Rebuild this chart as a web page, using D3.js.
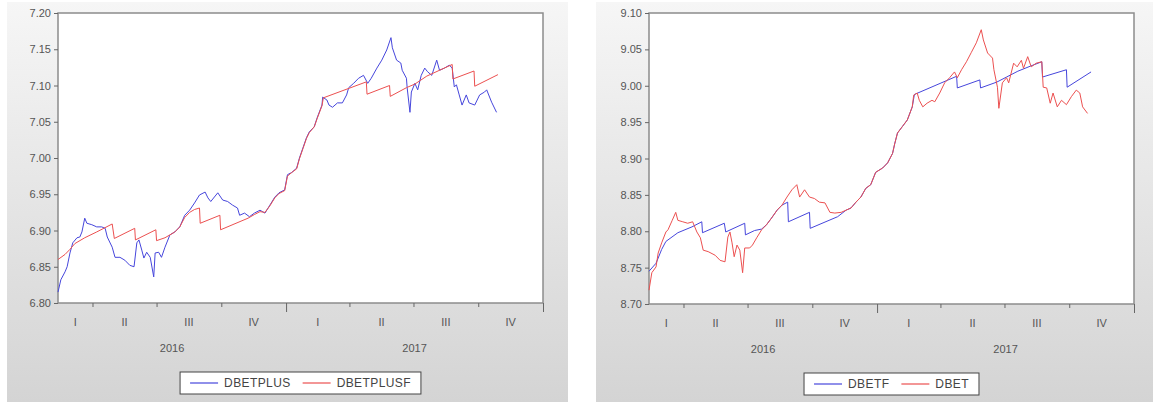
<!DOCTYPE html>
<html>
<head>
<meta charset="utf-8">
<script src="https://cdn.jsdelivr.net/npm/d3@7"></script>
<style>
  body { margin: 0; background: #fff; }
  svg { display: block; }
  text { font-family: "Liberation Sans", Arial, sans-serif; }
</style>
</head>
<body>
<div id="canvas"></div>
<script>
"use strict"

/* Data: [date, value] */
let dbetplus = [
    ["2016-02-12", 6.815], ["2016-02-16", 6.832], ["2016-02-22", 6.843], ["2016-02-25", 6.850],
    ["2016-02-29", 6.869], ["2016-03-04", 6.883], ["2016-03-10", 6.890], ["2016-03-14", 6.891],
    ["2016-03-17", 6.898], ["2016-03-21", 6.917], ["2016-03-24", 6.910], ["2016-03-31", 6.908],
    ["2016-04-07", 6.905], ["2016-04-14", 6.905], ["2016-04-19", 6.903], ["2016-04-22", 6.891],
    ["2016-04-29", 6.877], ["2016-05-03", 6.863], ["2016-05-10", 6.863], ["2016-05-17", 6.859],
    ["2016-05-24", 6.852], ["2016-05-30", 6.850], ["2016-06-03", 6.883], ["2016-06-06", 6.887],
    ["2016-06-10", 6.873], ["2016-06-13", 6.862], ["2016-06-17", 6.870], ["2016-06-22", 6.863],
    ["2016-06-27", 6.836], ["2016-06-29", 6.869], ["2016-07-04", 6.870], ["2016-07-08", 6.863],
    ["2016-07-13", 6.877], ["2016-07-20", 6.894], ["2016-07-27", 6.898], ["2016-08-03", 6.905],
    ["2016-08-10", 6.921], ["2016-08-17", 6.928], ["2016-08-24", 6.938], ["2016-08-31", 6.949],
    ["2016-09-08", 6.953], ["2016-09-12", 6.945], ["2016-09-16", 6.940], ["2016-09-26", 6.952],
    ["2016-10-03", 6.942], ["2016-10-10", 6.940], ["2016-10-17", 6.935], ["2016-10-24", 6.931],
    ["2016-10-27", 6.921], ["2016-11-03", 6.924], ["2016-11-10", 6.919], ["2016-11-17", 6.924],
    ["2016-11-25", 6.928], ["2016-12-02", 6.924], ["2016-12-09", 6.935], ["2016-12-16", 6.946],
    ["2016-12-22", 6.952], ["2016-12-30", 6.956], ["2017-01-03", 6.977], ["2017-01-09", 6.980],
    ["2017-01-16", 6.986], ["2017-01-20", 7.000], ["2017-01-25", 7.014], ["2017-01-30", 7.028],
    ["2017-02-03", 7.036], ["2017-02-10", 7.043], ["2017-02-14", 7.055], ["2017-02-21", 7.073],
    ["2017-02-22", 7.084], ["2017-02-28", 7.080], ["2017-03-03", 7.073], ["2017-03-08", 7.070],
    ["2017-03-15", 7.076], ["2017-03-22", 7.076], ["2017-03-28", 7.087], ["2017-03-31", 7.097],
    ["2017-04-07", 7.103], ["2017-04-14", 7.110], ["2017-04-21", 7.114], ["2017-04-27", 7.103],
    ["2017-05-02", 7.110], ["2017-05-10", 7.124], ["2017-05-17", 7.135], ["2017-05-24", 7.149],
    ["2017-05-30", 7.166], ["2017-06-01", 7.152], ["2017-06-07", 7.135], ["2017-06-13", 7.131],
    ["2017-06-15", 7.121], ["2017-06-21", 7.110], ["2017-06-22", 7.097], ["2017-06-26", 7.063],
    ["2017-06-28", 7.091], ["2017-07-03", 7.103], ["2017-07-07", 7.094], ["2017-07-12", 7.114],
    ["2017-07-17", 7.124], ["2017-07-21", 7.119], ["2017-07-27", 7.114], ["2017-08-03", 7.135],
    ["2017-08-07", 7.121], ["2017-08-14", 7.124], ["2017-08-21", 7.128], ["2017-08-25", 7.124],
    ["2017-08-28", 7.098], ["2017-08-31", 7.101], ["2017-09-04", 7.087], ["2017-09-08", 7.073],
    ["2017-09-14", 7.087], ["2017-09-18", 7.076], ["2017-09-26", 7.073], ["2017-10-03", 7.087],
    ["2017-10-10", 7.091], ["2017-10-13", 7.094], ["2017-10-20", 7.077], ["2017-10-27", 7.063]
];

let dbetplusf = [
    ["2016-02-12", 6.860], ["2016-02-22", 6.867], ["2016-02-29", 6.874], ["2016-03-07", 6.882],
    ["2016-03-21", 6.890], ["2016-04-07", 6.898], ["2016-04-29", 6.909], ["2016-05-02", 6.889],
    ["2016-05-31", 6.903], ["2016-06-01", 6.887], ["2016-06-30", 6.901], ["2016-07-01", 6.886],
    ["2016-07-13", 6.890], ["2016-07-20", 6.894], ["2016-07-27", 6.898], ["2016-08-03", 6.905],
    ["2016-08-10", 6.918], ["2016-08-17", 6.925], ["2016-08-24", 6.929], ["2016-08-31", 6.931],
    ["2016-09-01", 6.910], ["2016-09-29", 6.921], ["2016-09-30", 6.901], ["2016-11-08", 6.917],
    ["2016-11-17", 6.922], ["2016-11-25", 6.926], ["2016-12-02", 6.925], ["2016-12-09", 6.934],
    ["2016-12-16", 6.945], ["2016-12-22", 6.951], ["2016-12-30", 6.955], ["2017-01-03", 6.975],
    ["2017-01-09", 6.980], ["2017-01-16", 6.985], ["2017-01-20", 6.999], ["2017-01-25", 7.013],
    ["2017-01-30", 7.027], ["2017-02-03", 7.035], ["2017-02-10", 7.043], ["2017-02-14", 7.054],
    ["2017-02-21", 7.072], ["2017-02-23", 7.083], ["2017-04-25", 7.105], ["2017-04-26", 7.088],
    ["2017-05-28", 7.100], ["2017-05-29", 7.085], ["2017-06-21", 7.097], ["2017-07-03", 7.102],
    ["2017-07-20", 7.113], ["2017-08-07", 7.121], ["2017-08-25", 7.129], ["2017-08-26", 7.109],
    ["2017-09-25", 7.120], ["2017-09-26", 7.099], ["2017-10-29", 7.115]
];

let dbetf = [
    ["2016-02-12", 8.745], ["2016-02-22", 8.756], ["2016-03-01", 8.775], ["2016-03-07", 8.786],
    ["2016-03-24", 8.798], ["2016-04-13", 8.806], ["2016-04-27", 8.813], ["2016-04-28", 8.798],
    ["2016-05-29", 8.811], ["2016-05-31", 8.799], ["2016-06-27", 8.811], ["2016-06-28", 8.795],
    ["2016-07-11", 8.801], ["2016-07-21", 8.803], ["2016-07-28", 8.809], ["2016-08-04", 8.818],
    ["2016-08-12", 8.829], ["2016-08-19", 8.836], ["2016-08-27", 8.840], ["2016-08-28", 8.813],
    ["2016-09-27", 8.826], ["2016-09-28", 8.804], ["2016-11-06", 8.820], ["2016-11-18", 8.829],
    ["2016-11-25", 8.832], ["2016-12-02", 8.840], ["2016-12-09", 8.847], ["2016-12-16", 8.859],
    ["2016-12-23", 8.864], ["2016-12-30", 8.881], ["2017-01-09", 8.887], ["2017-01-16", 8.894],
    ["2017-01-23", 8.907], ["2017-01-26", 8.920], ["2017-01-30", 8.935], ["2017-02-06", 8.944],
    ["2017-02-13", 8.953], ["2017-02-20", 8.971], ["2017-02-23", 8.988], ["2017-04-24", 9.013],
    ["2017-04-25", 8.997], ["2017-05-27", 9.008], ["2017-05-28", 8.997], ["2017-06-20", 9.005],
    ["2017-07-04", 9.012], ["2017-07-20", 9.020], ["2017-08-07", 9.027], ["2017-08-23", 9.033],
    ["2017-08-24", 9.012], ["2017-09-27", 9.022], ["2017-09-28", 8.998], ["2017-11-01", 9.019]
];

let dbet = [
    ["2016-02-12", 8.719], ["2016-02-16", 8.743], ["2016-02-22", 8.751], ["2016-02-25", 8.770],
    ["2016-03-01", 8.784], ["2016-03-07", 8.799], ["2016-03-10", 8.802], ["2016-03-16", 8.815],
    ["2016-03-21", 8.826], ["2016-03-24", 8.815], ["2016-03-31", 8.813], ["2016-04-07", 8.811],
    ["2016-04-14", 8.813], ["2016-04-20", 8.799], ["2016-04-25", 8.791], ["2016-04-29", 8.774],
    ["2016-05-06", 8.772], ["2016-05-16", 8.767], ["2016-05-23", 8.760], ["2016-05-30", 8.758],
    ["2016-06-03", 8.792], ["2016-06-06", 8.799], ["2016-06-09", 8.784], ["2016-06-12", 8.765],
    ["2016-06-16", 8.781], ["2016-06-20", 8.774], ["2016-06-24", 8.743], ["2016-06-27", 8.777],
    ["2016-07-04", 8.777], ["2016-07-08", 8.781], ["2016-07-14", 8.791], ["2016-07-21", 8.802],
    ["2016-07-28", 8.809], ["2016-08-04", 8.818], ["2016-08-12", 8.829], ["2016-08-19", 8.836],
    ["2016-08-26", 8.847], ["2016-09-02", 8.857], ["2016-09-09", 8.864], ["2016-09-13", 8.847],
    ["2016-09-20", 8.857], ["2016-09-27", 8.847], ["2016-10-04", 8.845], ["2016-10-11", 8.840],
    ["2016-10-19", 8.839], ["2016-10-26", 8.826], ["2016-11-02", 8.825], ["2016-11-11", 8.826],
    ["2016-11-18", 8.829], ["2016-11-25", 8.832], ["2016-12-02", 8.840], ["2016-12-09", 8.847],
    ["2016-12-16", 8.859], ["2016-12-23", 8.864], ["2016-12-30", 8.881], ["2017-01-09", 8.887],
    ["2017-01-16", 8.894], ["2017-01-23", 8.907], ["2017-01-26", 8.920], ["2017-01-30", 8.935],
    ["2017-02-06", 8.944], ["2017-02-13", 8.953], ["2017-02-20", 8.971], ["2017-02-22", 8.987],
    ["2017-02-27", 8.990], ["2017-03-02", 8.980], ["2017-03-07", 8.971], ["2017-03-13", 8.976],
    ["2017-03-20", 8.980], ["2017-03-24", 8.978], ["2017-03-31", 8.990], ["2017-04-07", 9.004],
    ["2017-04-14", 9.011], ["2017-04-21", 9.019], ["2017-04-25", 9.011], ["2017-05-01", 9.022],
    ["2017-05-08", 9.033], ["2017-05-15", 9.046], ["2017-05-22", 9.059], ["2017-05-29", 9.077],
    ["2017-06-01", 9.063], ["2017-06-07", 9.045], ["2017-06-14", 9.038], ["2017-06-16", 9.022],
    ["2017-06-21", 8.998], ["2017-06-23", 8.969], ["2017-06-28", 9.004], ["2017-07-04", 9.011],
    ["2017-07-07", 9.004], ["2017-07-14", 9.031], ["2017-07-19", 9.026], ["2017-07-25", 9.035],
    ["2017-07-28", 9.024], ["2017-08-03", 9.040], ["2017-08-08", 9.026], ["2017-08-15", 9.031],
    ["2017-08-23", 9.033], ["2017-08-25", 8.998], ["2017-08-30", 8.997], ["2017-09-04", 8.976],
    ["2017-09-08", 8.990], ["2017-09-14", 8.971], ["2017-09-20", 8.980], ["2017-09-27", 8.974],
    ["2017-10-04", 8.985], ["2017-10-11", 8.994], ["2017-10-16", 8.990], ["2017-10-20", 8.971],
    ["2017-10-27", 8.962]
];

/* Tick labels */
let leftTicks = [6.80, 6.85, 6.90, 6.95, 7.00, 7.05, 7.10, 7.15, 7.20];
let rightTicks = [8.70, 8.75, 8.80, 8.85, 8.90, 8.95, 9.00, 9.05, 9.10];
let quarterNames = ["I", "II", "III", "IV"];
let years = [2016, 2017];
let axisStart = "2016-02-12";
let axisEnd = "2018-01-01";

/* Configuration variables: drawing */
let svgWidth = 1158;
let svgHeight = 405;
let blue = "#4646dc";
let red = "#ec5050";
let labelColor = "#555";

let parseDate = d3.timeParse("%Y-%m-%d");

let svg = d3.select("#canvas")
    .append("svg")
    .attr("width", svgWidth)
    .attr("height", svgHeight);

/* Panel background gradient */
let grad = svg.append("defs").append("linearGradient")
    .attr("id", "bggrad")
    .attr("x1", 0).attr("y1", 0).attr("x2", 0).attr("y2", 1);
grad.append("stop").attr("offset", "0%").attr("stop-color", "#f6f6f6");
grad.append("stop").attr("offset", "100%").attr("stop-color", "#d4d4d4");

let panels = [
    {
        bg: { x: 7, y: 2, w: 561, h: 400 },
        plot: { left: 58, right: 543, top: 13, bottom: 303 },
        ticks: leftTicks,
        series: [
            { name: "DBETPLUS", data: dbetplus, color: blue },
            { name: "DBETPLUSF", data: dbetplusf, color: red }
        ],
        legendY: 372
    },
    {
        bg: { x: 596, y: 2, w: 557, h: 400 },
        plot: { left: 649, right: 1134, top: 13, bottom: 304 },
        ticks: rightTicks,
        series: [
            { name: "DBETF", data: dbetf, color: blue },
            { name: "DBET", data: dbet, color: red }
        ],
        legendY: 373
    }
];

panels.forEach(function (p) {
    let g = svg.append("g");

    g.append("rect")
        .attr("x", p.bg.x).attr("y", p.bg.y)
        .attr("width", p.bg.w).attr("height", p.bg.h)
        .attr("fill", "url(#bggrad)");

    let xScale = d3.scaleTime()
        .domain([parseDate(axisStart), parseDate(axisEnd)])
        .range([p.plot.left, p.plot.right]);

    let yScale = d3.scaleLinear()
        .domain(d3.extent(p.ticks))
        .range([p.plot.bottom, p.plot.top]);

    /* plot area */
    g.append("rect")
        .attr("x", p.plot.left).attr("y", p.plot.top)
        .attr("width", p.plot.right - p.plot.left)
        .attr("height", p.plot.bottom - p.plot.top)
        .attr("fill", "#fff")
        .attr("stroke", "#8c8c8c")
        .attr("stroke-width", 1.5);

    /* y axis */
    let yAxis = g.append("g")
        .attr("transform", "translate(" + p.plot.left + ",0)")
        .call(d3.axisLeft(yScale)
            .tickValues(p.ticks)
            .tickSize(4)
            .tickSizeOuter(0)
            .tickPadding(3)
            .tickFormat(d3.format(".2f")));
    yAxis.select(".domain").remove();
    yAxis.selectAll("line").attr("stroke", "#666");
    yAxis.selectAll("text")
        .attr("fill", labelColor)
        .style("font-size", "11px")
        .style("font-family", "'Liberation Sans', Arial, sans-serif");

    /* x axis: quarter ticks and longer year ticks */
    let qTicks = d3.timeMonths(new Date(2016, 3, 1), new Date(2018, 0, 2), 3);
    let small = qTicks.filter(d => d.getMonth() !== 0);
    let big = qTicks.filter(d => d.getMonth() === 0);

    [[small, 4], [big, 9]].forEach(function (pair) {
        let ax = g.append("g")
            .attr("transform", "translate(0," + p.plot.bottom + ")")
            .call(d3.axisBottom(xScale)
                .tickValues(pair[0])
                .tickSize(pair[1])
                .tickSizeOuter(0)
                .tickFormat(""));
        ax.select(".domain").remove();
        ax.selectAll("line").attr("stroke", "#666");
    });

    /* quarter and year labels, centred on the visible part of each period */
    let d0 = xScale.domain()[0];
    let d1 = xScale.domain()[1];
    years.forEach(function (yr) {
        quarterNames.forEach(function (qn, qi) {
            let s = new Date(yr, qi * 3, 1);
            let e = new Date(yr, qi * 3 + 3, 1);
            let cx = (xScale(s < d0 ? d0 : s) + xScale(e > d1 ? d1 : e)) / 2;
            g.append("text")
                .attr("x", cx)
                .attr("y", p.plot.bottom + 23)
                .attr("text-anchor", "middle")
                .attr("fill", labelColor)
                .style("font-size", "11px")
                .text(qn);
        });
        let ys = new Date(yr, 0, 1);
        let ye = new Date(yr + 1, 0, 1);
        g.append("text")
            .attr("x", (xScale(ys < d0 ? d0 : ys) + xScale(ye > d1 ? d1 : ye)) / 2)
            .attr("y", p.plot.bottom + 49)
            .attr("text-anchor", "middle")
            .attr("fill", labelColor)
            .style("font-size", "11px")
            .text(String(yr));
    });

    /* lines */
    let line = d3.line()
        .x(d => xScale(parseDate(d[0])))
        .y(d => yScale(d[1]));

    p.series.forEach(function (s) {
        g.append("path")
            .datum(s.data)
            .attr("fill", "none")
            .attr("stroke", s.color)
            .attr("stroke-width", 1)
            .attr("stroke-linejoin", "round")
            .attr("d", line);
    });

    /* legend, centred under the plot */
    let lg = g.append("g");
    let box = lg.append("rect")
        .attr("fill", "#fff")
        .attr("stroke", "#444")
        .attr("stroke-width", 1);
    let cursor = 10;
    p.series.forEach(function (s, i) {
        lg.append("line")
            .attr("x1", cursor).attr("x2", cursor + 28)
            .attr("y1", 11).attr("y2", 11)
            .attr("stroke", s.color)
            .attr("stroke-width", 1.2);
        let t = lg.append("text")
            .attr("x", cursor + 34)
            .attr("y", 15)
            .attr("fill", "#444")
            .style("font-size", "12px")
            .style("letter-spacing", "0.4px")
            .text(s.name);
        cursor += 34 + t.node().getComputedTextLength() + 12;
    });
    let boxW = cursor - 2;
    box.attr("x", 0).attr("y", 0).attr("width", boxW).attr("height", 22);
    let cx = (p.plot.left + p.plot.right) / 2;
    lg.attr("transform", "translate(" + (cx - boxW / 2) + "," + p.legendY + ")");
});
</script>
</body>
</html>
